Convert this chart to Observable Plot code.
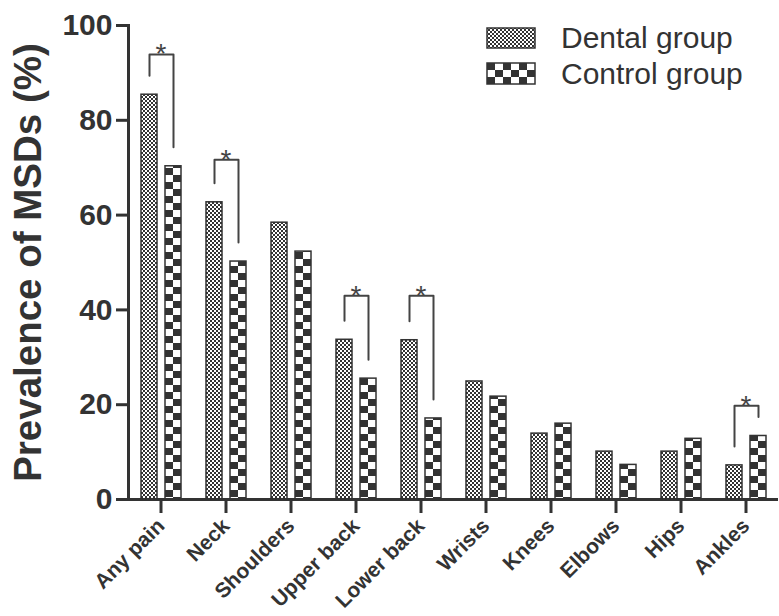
<!DOCTYPE html>
<html><head><meta charset="utf-8">
<script src="https://cdn.jsdelivr.net/npm/d3@7"></script>
<script src="https://cdn.jsdelivr.net/npm/@observablehq/plot@0.6"></script>
<style>
body{margin:0;background:#fff;font-family:"Liberation Sans",Arial,sans-serif;}
#wrap{position:relative;width:779px;height:616px;}
.lg-sw{position:absolute;left:486px;}
.lg-tx{position:absolute;left:561px;font-size:30px;line-height:30px;color:#333;white-space:nowrap;}
</style></head><body>
<svg width="0" height="0" style="position:absolute"><defs>
<pattern id="pDental" patternUnits="userSpaceOnUse" width="4" height="4"><rect width="4" height="4" fill="#fff"/><rect width="2" height="2" fill="#333"/><rect x="2" y="2" width="2" height="2" fill="#333"/></pattern>
<pattern id="pControl" patternUnits="userSpaceOnUse" width="16" height="14"><rect width="16" height="14" fill="#fff"/><rect width="8" height="7" fill="#333"/><rect x="8" y="7" width="8" height="7" fill="#333"/></pattern>
<pattern id="pControlLg" patternUnits="userSpaceOnUse" width="16" height="14" x="1" y="1"><rect width="16" height="14" fill="#fff"/><rect width="8" height="7" fill="#333"/><rect x="8" y="7" width="8" height="7" fill="#333"/></pattern>
</defs></svg>
<div id="wrap">
  <div id="chart"></div>
  <svg class="lg-sw" style="top:27px" width="50" height="22"><rect x="1" y="1" width="48" height="20" fill="url(#pDental)" stroke="#333" stroke-width="1.5"/></svg>
  <div class="lg-tx" style="top:23px">Dental group</div>
  <svg class="lg-sw" style="top:62px" width="50" height="23"><rect x="1" y="1" width="48" height="21" fill="url(#pControlLg)" stroke="#333" stroke-width="1.5"/></svg>
  <div class="lg-tx" style="top:59px">Control group</div>
</div>
<script>
const categories = ["Any pain","Neck","Shoulders","Upper back","Lower back","Wrists","Knees","Elbows","Hips","Ankles"];
const groups = ["Dental group","Control group"];
const dental  = [85.4, 62.7, 58.4, 33.7, 33.6, 24.9, 13.9, 10.1, 10.1, 7.2];
const control = [70.3, 50.2, 52.3, 25.5, 17.1, 21.7, 16.0, 7.3, 12.8, 13.4];
const yTicks = [0, 20, 40, 60, 80, 100];
const sigCategories = ["Any pain","Neck","Upper back","Lower back","Ankles"];
const sigTop = [93.9, 71.7, 43.0, 43.0, 19.8];
const legGap = 4;

const rows = categories.flatMap((c, i) => [
  {category: c, group: groups[0], value: dental[i]},
  {category: c, group: groups[1], value: control[i]}
]);
const brackets = sigCategories.flatMap((c, i) => {
  const k = categories.indexOf(c);
  return [
    {category: c, group: groups[0], y: dental[k] + legGap},
    {category: c, group: groups[0], y: sigTop[i]},
    {category: c, group: groups[1], y: sigTop[i]},
    {category: c, group: groups[1], y: control[k] + legGap}
  ];
});
const stars = sigCategories.map((c, i) => ({category: c, top: sigTop[i]}));

const font = "Liberation Sans, Arial, sans-serif";
const plot = Plot.plot({
  width: 779, height: 616,
  marginLeft: 127, marginRight: 0, marginTop: 25, marginBottom: 117,
  style: {fontFamily: font, color: "#333", background: "transparent", overflow: "visible"},
  fx: {domain: categories, padding: 0},
  x: {domain: groups, paddingInner: 1/3, paddingOuter: 0.49, axis: null},
  y: {domain: [0, 100]},
  marks: [
    Plot.barY(rows.filter(d => d.group === groups[0]), {fx: "category", x: "group", y: "value", fill: "url(#pDental)", stroke: "#333", strokeWidth: 1.5}),
    Plot.barY(rows.filter(d => d.group === groups[1]), {fx: "category", x: "group", y: "value", fill: "url(#pControl)", stroke: "#333", strokeWidth: 1.5}),
    Plot.line(brackets, {fx: "category", x: "group", y: "y", z: "category", stroke: "#444", strokeWidth: 2}),
    Plot.text(stars, {fx: "category", y: "top", text: () => "*", fontSize: 28, fill: "#444", lineAnchor: "bottom", dy: 9}),
    Plot.ruleY([0], {stroke: "#333", strokeWidth: 3}),
    Plot.frame({anchor: "left", stroke: "#333", strokeWidth: 3, facetAnchor: "left"}),
    Plot.axisY({ticks: yTicks, tickSize: 12, tickPadding: 4, stroke: "#333", strokeWidth: 3, fill: "#333", fontSize: 30, fontWeight: "bold", label: null}),
    Plot.axisY({ticks: [], tickSize: 0, label: "Prevalence of MSDs (%)", labelAnchor: "center", labelArrow: "none", labelOffset: 115, fill: "#333", fontSize: 38.5, fontWeight: "bold"}),
    Plot.axisFx({anchor: "bottom", tickSize: 14, tickPadding: 9, stroke: "#333", strokeWidth: 3, fill: "#333", tickRotate: -45, fontSize: 21, fontWeight: "bold", label: null})
  ]
});
document.getElementById("chart").appendChild(plot);
// align control checker pattern with the bars
const xs = plot.scale("x");
if (xs) document.getElementById("pControl").setAttribute("x", xs.apply(groups[1]));
</script>
</body></html>
